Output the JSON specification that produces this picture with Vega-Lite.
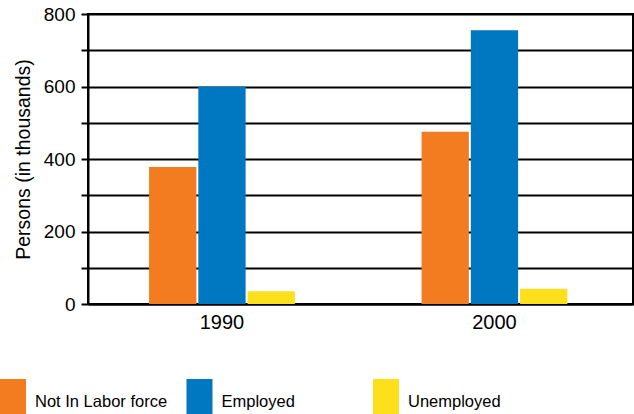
{
  "$schema": "https://vega.github.io/schema/vega-lite/v6.json",
  "width": 545,
  "height": 290,
  "autosize": {"type": "none"},
  "padding": {"left": 88, "top": 14, "right": 1, "bottom": 110},
  "background": "white",
  "data": {
    "values": [
      {"year": "1990", "category": "Not In Labor force", "value": 378},
      {"year": "1990", "category": "Employed", "value": 600},
      {"year": "1990", "category": "Unemployed", "value": 35},
      {"year": "2000", "category": "Not In Labor force", "value": 475},
      {"year": "2000", "category": "Employed", "value": 755},
      {"year": "2000", "category": "Unemployed", "value": 42}
    ]
  },
  "mark": {"type": "bar"},
  "encoding": {
    "x": {
      "field": "year",
      "type": "nominal",
      "scale": {"paddingInner": 0.465, "paddingOuter": 0.2325, "align": 0.482},
      "axis": {
        "title": null,
        "labelAngle": 0,
        "ticks": false,
        "domainColor": "black",
        "domainWidth": 2,
        "labelFont": "Liberation Sans",
        "labelFontSize": 20,
        "labelColor": "black",
        "labelPadding": 8
      }
    },
    "xOffset": {
      "field": "category",
      "sort": ["Not In Labor force", "Employed", "Unemployed"],
      "scale": {"paddingInner": 0.04}
    },
    "y": {
      "field": "value",
      "type": "quantitative",
      "scale": {"domain": [0, 800]},
      "axis": {
        "values": [0, 100, 200, 300, 400, 500, 600, 700, 800],
        "labelExpr": "datum.value % 200 == 0 ? datum.label : ''",
        "grid": true,
        "gridColor": "black",
        "gridWidth": 2,
        "gridOpacity": 1,
        "domainColor": "black",
        "domainWidth": 2,
        "tickColor": "black",
        "tickWidth": 2,
        "tickSize": 7,
        "labelPadding": 6,
        "labelFont": "Liberation Sans",
        "labelFontSize": 19,
        "labelColor": "black",
        "title": "Persons (in thousands)",
        "titleFont": "Liberation Sans",
        "titleFontSize": 19.5,
        "titleFontWeight": "normal",
        "titleColor": "black",
        "titlePadding": 10
      }
    },
    "color": {
      "field": "category",
      "type": "nominal",
      "sort": ["Not In Labor force", "Employed", "Unemployed"],
      "scale": {
        "domain": ["Not In Labor force", "Employed", "Unemployed"],
        "range": ["#F37B20", "#0078C1", "#FEDF1C"]
      },
      "legend": {
        "title": null,
        "orient": "none",
        "legendX": -88,
        "legendY": 365,
        "direction": "horizontal",
        "columns": 3,
        "gridAlign": "all",
        "columnPadding": 18.5,
        "symbolType": "M-1,-1 h1.13 v2 h-1.13 z",
        "symbolSize": 2116,
        "symbolStrokeWidth": 0,
        "symbolOpacity": 1,
        "labelOffset": -11,
        "labelFont": "Liberation Sans",
        "labelFontSize": 16.5,
        "labelColor": "black",
        "labelLimit": 300
      }
    }
  },
  "config": {
    "view": {"stroke": "black", "strokeWidth": 2}
  }
}
